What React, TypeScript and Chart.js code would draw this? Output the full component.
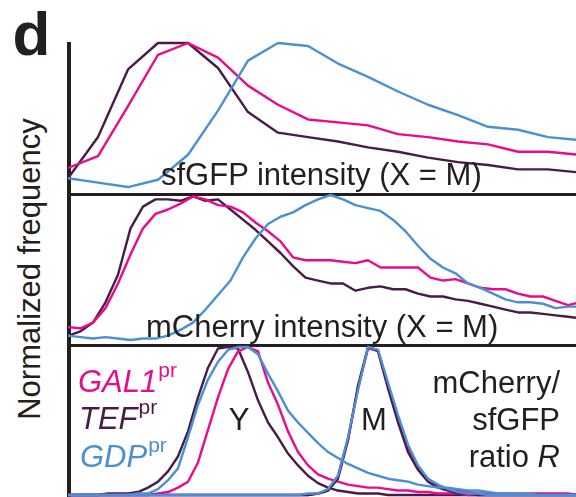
import React, { useEffect, useRef } from "react";
import { Chart, registerables } from "chart.js";

Chart.register(...registerables);

// ---------- colours ----------
const GAL1_COLOR = "#ec0a8c";
const TEF_COLOR = "#4a1a49";
const GDP_COLOR = "#4a90d2";
const INK = "#231f20";

// ---------- panel 1 : sfGFP intensity histogram (bin index) ----------
const P1_BINS = [0, 1, 2, 3, 4, 5, 6, 7, 8, 9, 10, 11, 12, 13, 14, 15, 16, 17];
const P1_GAL1 = [0.15, 0.23, 0.57, 0.92, 1.0, 0.9, 0.71, 0.58, 0.48, 0.46, 0.44, 0.38, 0.36, 0.33, 0.31, 0.26, 0.26, 0.24];
const P1_TEF = [0.08, 0.36, 0.82, 1.0, 1.0, 0.83, 0.53, 0.39, 0.36, 0.33, 0.29, 0.26, 0.22, 0.19, 0.17, 0.14, 0.14, 0.12];
const P1_GDP = [0.08, 0.05, 0.02, 0.07, 0.24, 0.54, 0.88, 1.0, 0.98, 0.86, 0.77, 0.67, 0.58, 0.51, 0.43, 0.41, 0.36, 0.34];

// ---------- panel 2 : mCherry intensity histogram (bin index) ----------
const P2_BINS = [0, 1, 2, 3, 4, 5, 6, 7, 8, 9, 10, 11, 12, 13, 14, 15, 16, 17, 18, 19, 20, 21, 22, 23, 24, 25, 26, 27, 28, 29, 30, 31, 32, 33, 34, 35, 36, 37, 38, 39, 40, 41];
const P2_GAL1 = [0.09, 0.08, 0.12, 0.22, 0.39, 0.59, 0.77, 0.87, 0.9, 0.94, 0.99, 0.97, 0.93, 0.92, 0.88, 0.81, 0.75, 0.68, 0.57, 0.55, 0.55, 0.55, 0.54, 0.53, 0.55, 0.5, 0.5, 0.5, 0.5, 0.43, 0.41, 0.42, 0.39, 0.36, 0.35, 0.35, 0.32, 0.3, 0.3, 0.27, 0.24, 0.26];
const P2_TEF = [0.03, 0.06, 0.12, 0.26, 0.45, 0.77, 0.92, 0.97, 0.97, 0.96, 0.99, 0.96, 0.97, 0.9, 0.83, 0.76, 0.68, 0.6, 0.51, 0.43, 0.41, 0.39, 0.39, 0.34, 0.36, 0.37, 0.35, 0.35, 0.32, 0.3, 0.3, 0.28, 0.27, 0.25, 0.23, 0.21, 0.19, 0.19, 0.18, 0.17, 0.16, 0.15];
const P2_GDP = [0.03, 0.02, 0.01, 0.02, 0.01, 0.0, 0.01, 0.01, 0.03, 0.07, 0.12, 0.21, 0.31, 0.41, 0.57, 0.7, 0.8, 0.85, 0.88, 0.93, 0.97, 1.0, 0.97, 0.93, 0.91, 0.89, 0.83, 0.75, 0.65, 0.56, 0.5, 0.46, 0.39, 0.36, 0.32, 0.28, 0.26, 0.26, 0.25, 0.22, 0.23, 0.23];

// ---------- panel 3 : mCherry/sfGFP ratio R histogram (bin index) ----------
const P3_BINS = [0, 1, 2, 3, 4, 5, 6, 7, 8, 9, 10, 11, 12, 13, 14, 15, 16, 17, 18, 19, 20, 21, 22, 23, 24, 25, 26, 27, 28, 29, 30, 31, 32, 33, 34, 35, 36, 37, 38, 39, 40, 41, 42, 43, 44, 45, 46, 47, 48, 49, 50, 51];
const P3_GAL1_Y = [0, 0, 0, 0, 0, 0, 0, 0, 0, 0.01, 0.02, 0.05, 0.09, 0.22, 0.44, 0.66, 0.85, 0.97, 1.0, 0.97, 0.76, 0.61, 0.43, 0.29, 0.2, 0.14, 0.11, 0.09, 0.07, 0.06, 0.05, 0.05, 0.04, 0.03, 0.03, 0.02, 0.02, 0.01, 0.01, 0.01, 0, 0, 0, 0, 0, 0, 0, 0, 0, 0, 0, 0];
const P3_TEF_Y = [0, 0, 0, 0, 0.01, 0.01, 0.01, 0.02, 0.05, 0.09, 0.16, 0.26, 0.43, 0.66, 0.86, 0.99, 1.0, 0.99, 0.83, 0.64, 0.49, 0.39, 0.28, 0.2, 0.13, 0.08, 0.05, 0.03, 0.02, 0.01, 0.01, 0.01, 0, 0, 0, 0, 0, 0, 0, 0, 0, 0, 0, 0, 0, 0, 0, 0, 0, 0, 0, 0];
const P3_GDP_Y = [0, 0, 0, 0, 0, 0, 0, 0.01, 0.01, 0.04, 0.1, 0.18, 0.39, 0.61, 0.78, 0.9, 0.98, 1.0, 1.0, 0.95, 0.82, 0.7, 0.57, 0.49, 0.42, 0.35, 0.29, 0.25, 0.21, 0.18, 0.15, 0.13, 0.11, 0.1, 0.09, 0.07, 0.06, 0.05, 0.05, 0.04, 0.03, 0.03, 0.02, 0.01, 0.01, 0.01, 0.01, 0, 0, 0, 0, 0];
const P3_GAL1_M = [0, 0, 0, 0, 0, 0, 0, 0, 0, 0, 0, 0, 0, 0, 0, 0, 0, 0, 0, 0, 0, 0, 0, 0, 0, 0.01, 0.03, 0.13, 0.38, 0.72, 0.99, 0.98, 0.74, 0.52, 0.32, 0.18, 0.11, 0.06, 0.04, 0.03, 0.02, 0.01, 0.01, 0.01, 0.01, 0.01, 0.01, 0.01, 0.01, 0.01, 0.01, 0];
const P3_TEF_M = [0, 0, 0, 0, 0, 0, 0, 0, 0, 0, 0, 0, 0, 0, 0, 0, 0, 0, 0, 0, 0, 0, 0, 0, 0, 0.01, 0.03, 0.11, 0.37, 0.74, 1.0, 0.97, 0.72, 0.49, 0.29, 0.17, 0.09, 0.05, 0.03, 0.01, 0.01, 0, 0, 0, 0, 0, 0, 0, 0, 0, 0, 0];
const P3_GDP_M = [0, 0, 0, 0, 0, 0, 0, 0, 0, 0, 0, 0, 0, 0, 0, 0, 0, 0, 0, 0, 0, 0, 0, 0, 0.01, 0.01, 0.04, 0.13, 0.39, 0.71, 1.0, 0.98, 0.76, 0.54, 0.34, 0.2, 0.11, 0.07, 0.04, 0.02, 0.01, 0.01, 0, 0, 0, 0, 0, 0, 0, 0, 0, 0];

// ---------- labels ----------
const PANEL_LETTER = "d";
const Y_TITLE = "Normalized frequency";
const P1_TITLE = "sfGFP intensity (X = M)";
const P2_TITLE = "mCherry intensity (X = M)";
const PEAK_Y = "Y";
const PEAK_M = "M";
const LEGEND = [
  { name: "GAL1", sup: "pr", color: GAL1_COLOR },
  { name: "TEF", sup: "pr", color: TEF_COLOR },
  { name: "GDP", sup: "pr", color: GDP_COLOR },
];

type Series = { values: number[]; color: string };

function makeChart(
  canvas: HTMLCanvasElement,
  bins: number[],
  xMax: number,
  series: Series[],
  padTop: number,
  padBottom: number
) {
  return new Chart(canvas, {
    type: "line",
    data: {
      datasets: series.map((s) => ({
        data: bins.map((b, i) => ({ x: b, y: s.values[i] })),
        borderColor: s.color,
        backgroundColor: s.color,
        borderWidth: 2.4,
        pointRadius: 0,
        tension: 0,
        fill: false,
        clip: false as any,
        borderJoinStyle: "round" as const,
      })),
    },
    options: {
      animation: false,
      responsive: false,
      devicePixelRatio: 1,
      events: [],
      layout: { padding: { top: padTop, bottom: padBottom, left: 0, right: 0 } },
      scales: {
        x: { type: "linear", min: 0, max: xMax, display: false },
        y: { type: "linear", min: 0, max: 1, display: false },
      },
      plugins: { legend: { display: false }, tooltip: { enabled: false } },
    },
  });
}

const FONT = '"Liberation Sans", Arial, Helvetica, sans-serif';
const FS = 31;
const BASE = 0.8465 * FS; // baseline offset from top with line-height = FS

function Txt(props: {
  left: number;
  baseline: number;
  children: React.ReactNode;
  color?: string;
  width?: number;
  align?: "left" | "center" | "right";
  italic?: boolean;
}) {
  const { left, baseline, children, color = INK, width, align = "left", italic } = props;
  return (
    <div
      style={{
        position: "absolute",
        left,
        top: baseline - BASE,
        width,
        textAlign: align,
        fontFamily: FONT,
        fontSize: FS,
        lineHeight: FS + "px",
        color,
        whiteSpace: "nowrap",
        fontStyle: italic ? "italic" : "normal",
      }}
    >
      {children}
    </div>
  );
}

export default function App() {
  const c1 = useRef<HTMLCanvasElement>(null);
  const c2 = useRef<HTMLCanvasElement>(null);
  const c3 = useRef<HTMLCanvasElement>(null);

  useEffect(() => {
    const charts = [
      makeChart(c1.current!, P1_BINS, 508 / 30, [
        { values: P1_GDP, color: GDP_COLOR },
        { values: P1_GAL1, color: GAL1_COLOR },
        { values: P1_TEF, color: TEF_COLOR },
      ], 5, 8),
      makeChart(c2.current!, P2_BINS, 508 / 12.5, [
        { values: P2_GDP, color: GDP_COLOR },
        { values: P2_GAL1, color: GAL1_COLOR },
        { values: P2_TEF, color: TEF_COLOR },
      ], 5, 6),
      makeChart(c3.current!, P3_BINS, 50.8, [
        { values: P3_GDP_M, color: GDP_COLOR },
        { values: P3_GDP_Y, color: GDP_COLOR },
        { values: P3_TEF_M, color: TEF_COLOR },
        { values: P3_GAL1_M, color: GAL1_COLOR },
        { values: P3_GAL1_Y, color: GAL1_COLOR },
        { values: P3_TEF_Y, color: TEF_COLOR },
      ], 5, 2),
    ];
    return () => charts.forEach((c) => c.destroy());
  }, []);

  const bar = (left: number, top: number, width: number, height: number) => (
    <div style={{ position: "absolute", left, top, width, height, background: INK }} />
  );

  return (
    <div
      style={{
        position: "absolute",
        left: 0,
        top: 0,
        width: 576,
        height: 497,
        background: "#fff",
        overflow: "hidden",
      }}
    >
      {bar(67, 42, 4, 455)}
      {bar(67, 193, 509, 3)}
      {bar(67, 344, 509, 3)}

      <canvas ref={c1} width={508} height={160} style={{ position: "absolute", left: 68, top: 38 }} />
      <canvas ref={c2} width={508} height={156} style={{ position: "absolute", left: 68, top: 190 }} />
      <canvas ref={c3} width={508} height={155} style={{ position: "absolute", left: 68, top: 342 }} />

      {/* panel letter */}
      <div
        style={{
          position: "absolute",
          left: 12.5,
          top: 55 - 0.8465 * 62,
          fontFamily: FONT,
          fontWeight: "bold",
          fontSize: 62,
          lineHeight: "62px",
          color: INK,
        }}
      >
        {PANEL_LETTER}
      </div>

      {/* y title rotated */}
      <div
        style={{
          position: "absolute",
          left: 0,
          top: 0,
          width: 400,
          textAlign: "center",
          fontFamily: FONT,
          fontSize: FS,
          lineHeight: FS + "px",
          color: INK,
          whiteSpace: "nowrap",
          transformOrigin: "0 0",
          transform: `translate(${40 - BASE}px, ${269 + 200}px) rotate(-90deg)`,
        }}
      >
        {Y_TITLE}
      </div>

      <Txt left={161} baseline={185}>{P1_TITLE}</Txt>
      <Txt left={146} baseline={337}>{P2_TITLE}</Txt>

      <Txt left={189} baseline={430} width={100} align="center">{PEAK_Y}</Txt>
      <Txt left={324} baseline={430} width={100} align="center">{PEAK_M}</Txt>

      {LEGEND.map((l, i) => (
        <Txt key={l.name} left={[78, 79, 80][i]} baseline={392 + 37.5 * i} color={l.color}>
          <span style={{ fontStyle: "italic" }}>{l.name}</span>
          <span style={{ fontSize: 21, position: "relative", top: -15, marginLeft: 1 }}>{l.sup}</span>
        </Txt>
      ))}

      <Txt left={360} baseline={393} width={200} align="right">mCherry/</Txt>
      <Txt left={360} baseline={430} width={200} align="right">sfGFP</Txt>
      <Txt left={360} baseline={467} width={200} align="right">
        ratio <span style={{ fontStyle: "italic" }}>R</span>
      </Txt>
    </div>
  );
}
